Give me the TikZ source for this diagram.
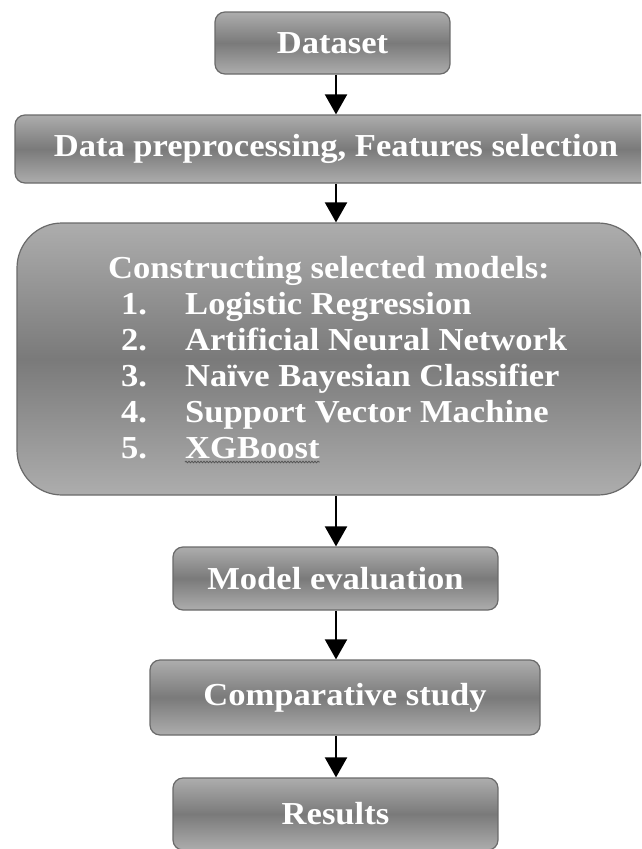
\documentclass[tikz,border=0pt]{standalone}
\usepackage{fontspec}
\setmainfont{Liberation Serif}[FakeStretch=1.08]
\usetikzlibrary{arrows.meta,decorations.pathmorphing}
\definecolor{boxlight}{HTML}{ADADAD}
\definecolor{boxdark}{HTML}{7A7A7A}
\definecolor{boxedge}{HTML}{6A6A6A}
\definecolor{squiggle}{HTML}{555555}
\begin{document}
\begin{tikzpicture}[x=1pt,y=-1pt,
  stepbox/.style={draw=boxedge, line width=1.2pt, rounded corners=10pt,
    top color=boxlight, bottom color=boxlight, middle color=boxdark,
    text=white, font=\bfseries\fontsize{32}{36}\selectfont, inner sep=0pt},
  itemtxt/.style={text=white, font=\bfseries\fontsize{32}{36}\selectfont,
    inner sep=0pt, anchor=base west},
  flow/.style={line width=2pt, -{Triangle[width=22pt,length=20pt]}}]
\useasboundingbox (0,0) rectangle (641,849);
\clip (0,0) rectangle (641,849);

% process boxes
\node[stepbox, minimum width=235, minimum height=62] (data) at (332.5,43) {Dataset};
\node[stepbox, minimum width=642, minimum height=68] (prep) at (336,149)
  {Data preprocessing, Features selection};
\node[stepbox, rounded corners=45pt, minimum width=626, minimum height=272]
  (models) at (330,359) {};
\node[stepbox, minimum width=325, minimum height=63] (eval) at (335.5,578.5)
  {Model evaluation};
\node[stepbox, minimum width=390, minimum height=75] (comp) at (345,697.5)
  {Comparative study};
\node[stepbox, minimum width=325, minimum height=72] (res) at (335.5,814)
  {Results};

% list of models
\node[itemtxt] (mhead) at (108,278) {Constructing selected models:};
\node[itemtxt] (n1) at (121,314) {1.};
\node[itemtxt] (m1) at (185,314) {Logistic Regression};
\node[itemtxt] (n2) at (121,350) {2.};
\node[itemtxt] (m2) at (185,350) {Artificial Neural Network};
\node[itemtxt] (n3) at (121,386) {3.};
\node[itemtxt] (m3) at (185,386) {Naïve Bayesian Classifier};
\node[itemtxt] (n4) at (121,422) {4.};
\node[itemtxt] (m4) at (185,422) {Support Vector Machine};
\node[itemtxt] (n5) at (121,458) {5.};
\node[itemtxt] (m5) at (185,458) {XGBoost};
\draw[squiggle, line width=0.8pt, decorate,
  decoration={snake, segment length=3pt, amplitude=0.8pt}]
  ([yshift=-4pt]m5.base west) -- ([yshift=-4pt]m5.base east);

% connectors
\coordinate (axis) at (336,0);
\draw[flow] (data.south -| axis) -- (prep.north -| axis);
\draw[flow] (prep.south -| axis) -- (models.north -| axis);
\draw[flow] (models.south -| axis) -- (eval.north -| axis);
\draw[flow] (eval.south -| axis) -- (comp.north -| axis);
\draw[flow] (comp.south -| axis) -- (res.north -| axis);
\end{tikzpicture}
\end{document}
